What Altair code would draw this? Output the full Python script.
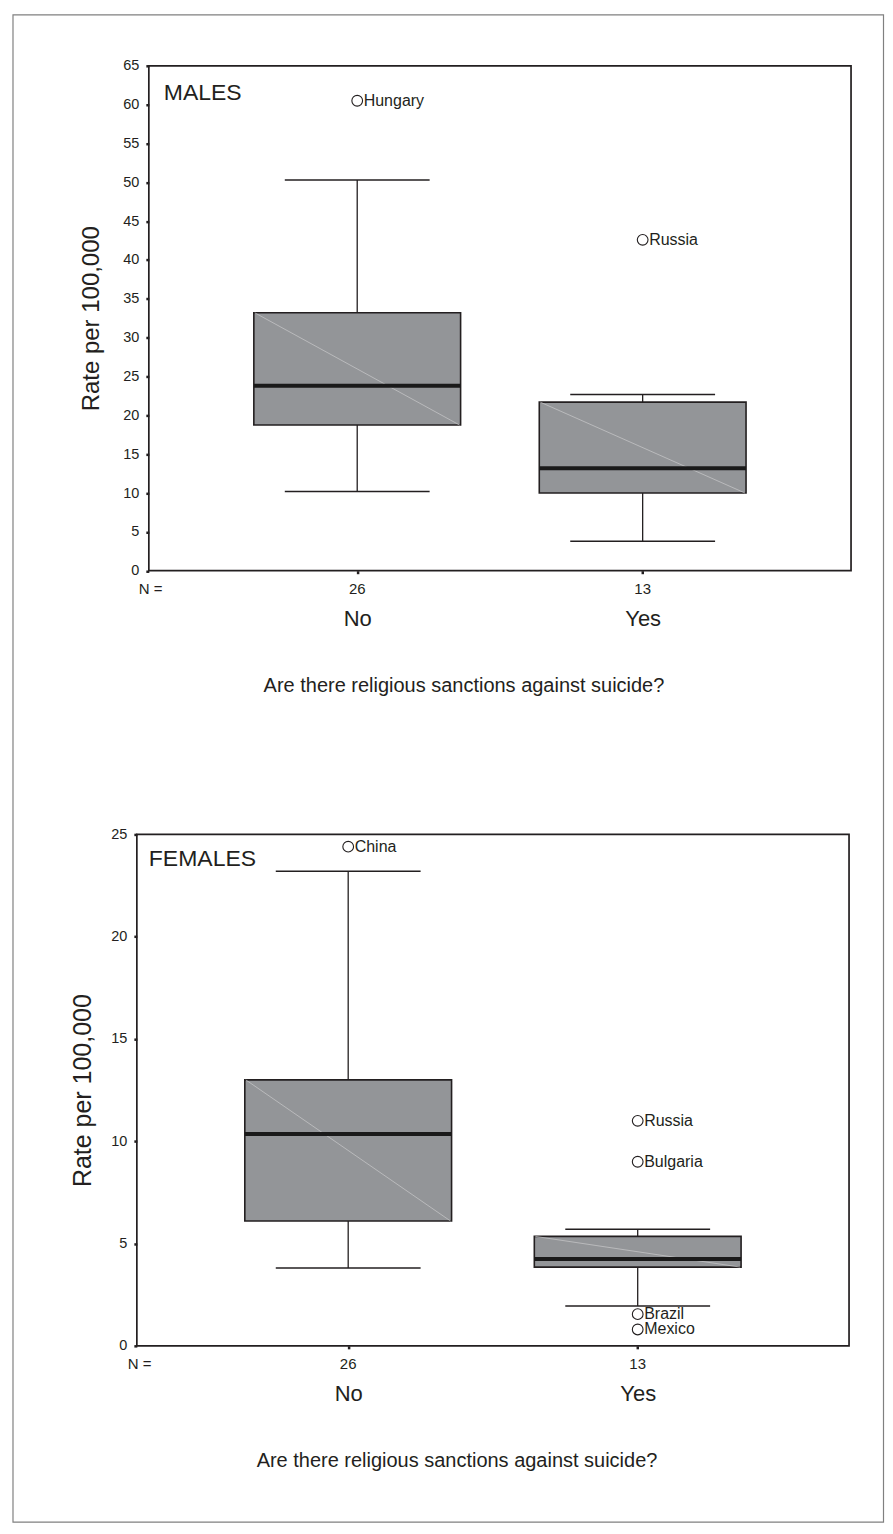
import altair as alt
import pandas as pd

# ---------------- data ----------------
groups = ["No", "Yes"]
n_counts = [26, 13]

male_q1 = [18.75, 10.0]
male_median = [23.8, 13.2]
male_q3 = [33.2, 21.7]
male_low = [10.2, 3.8]
male_high = [50.3, 22.7]
male_out_group = ["No", "Yes"]
male_out_value = [60.5, 42.6]
male_out_label = ["Hungary", "Russia"]

female_q1 = [6.1, 3.85]
female_median = [10.35, 4.25]
female_q3 = [13.0, 5.35]
female_low = [3.8, 1.95]
female_high = [23.2, 5.7]
female_out_group = ["No", "Yes", "Yes", "Yes", "Yes"]
female_out_value = [24.4, 11.0, 9.0, 1.55, 0.8]
female_out_label = ["China", "Russia", "Bulgaria", "Brazil", "Mexico"]

male_ticks = list(range(0, 70, 5))
female_ticks = list(range(0, 30, 5))

FONT = "Liberation Sans"
INK = "#231f20"
BOX_FILL = "#939598"
DIAG = "#c9c9cb"
FRAME_GRAY = "#808080"

BOX_HALF = 103.5
CAP_HALF = 72.5


def panel(name, q1, med, q3, lo, hi, og, ov, ol, ymax, yticks, width, height,
          x_range, y_axis_offset, ytitle_x, ytitle_size, xtitle_x, frame_x0,
          nlabel_x, name_x, name_y, page_frame=None):
    stats = pd.DataFrame({"group": groups, "n": n_counts, "q1": q1, "med": med,
                          "q3": q3, "lo": lo, "hi": hi})
    outs = pd.DataFrame({"group": og, "value": ov, "label": ol})
    one = pd.DataFrame({"k": [0]})

    xscale = alt.Scale(type="point", domain=groups, padding=0.73)
    if x_range is not None:
        xscale = alt.Scale(type="point", domain=groups, padding=0.73, range=x_range)
    xaxis = alt.Axis(domain=False, ticks=True, tickSize=3, tickWidth=2.5,
                     tickColor=INK, labelFontSize=22, labelColor=INK,
                     labelPadding=45, labelBaseline="middle", labelAngle=0,
                     grid=False,
                     title="Are there religious sanctions against suicide?",
                     titleFontSize=20, titleFontWeight="normal", titleColor=INK,
                     titleX=xtitle_x, titleY=114.5, titleBaseline="middle",
                     titleAlign="center")
    yaxis = alt.Axis(values=yticks, domain=False, ticks=True, tickSize=3,
                     tickWidth=2.5, tickColor=INK, labelFontSize=14.5,
                     labelColor=INK, labelPadding=7, grid=False,
                     title="Rate per 100,000", titleFontSize=ytitle_size,
                     titleFontWeight="normal", titleColor=INK,
                     titleX=ytitle_x, titleBaseline="middle",
                     offset=y_axis_offset)
    yscale = alt.Scale(domain=[0, ymax], nice=False, zero=True)

    X = alt.X("group:N", scale=xscale, axis=xaxis)

    def Y(f):
        return alt.Y(f"{f}:Q", scale=yscale, axis=yaxis)

    base = alt.Chart(stats)
    layers = []
    # whiskers
    layers.append(base.mark_rule(color=INK, strokeWidth=1.3).encode(
        x=X, y=Y("q3"), y2="hi"))
    layers.append(base.mark_rule(color=INK, strokeWidth=1.3).encode(
        x=X, y=Y("q1"), y2="lo"))
    # caps
    layers.append(base.mark_rule(color=INK, strokeWidth=1.5, xOffset=-CAP_HALF,
                                 x2Offset=CAP_HALF).encode(
        x=X, x2="group", y=Y("hi")))
    layers.append(base.mark_rule(color=INK, strokeWidth=1.5, xOffset=-CAP_HALF,
                                 x2Offset=CAP_HALF).encode(
        x=X, x2="group", y=Y("lo")))
    # box
    layers.append(base.mark_bar(size=2 * BOX_HALF, fill=BOX_FILL, stroke=INK,
                                strokeWidth=1.6).encode(
        x=X, y=Y("q1"), y2="q3"))
    # faint diagonal inside box
    layers.append(base.mark_rule(color=DIAG, strokeWidth=0.7, xOffset=-BOX_HALF + 1,
                                 x2Offset=BOX_HALF - 1).encode(
        x=X, x2="group", y=Y("q3"), y2="q1"))
    # median
    layers.append(base.mark_rule(color="#1a1a1a", strokeWidth=4, xOffset=-BOX_HALF,
                                 x2Offset=BOX_HALF).encode(
        x=X, x2="group", y=Y("med")))
    # outliers
    ob = alt.Chart(outs)
    layers.append(ob.mark_point(shape="circle", filled=False, size=115,
                                color=INK, strokeWidth=1.1, opacity=1).encode(
        x=X, y=Y("value")))
    layers.append(ob.mark_text(align="left", baseline="middle", dx=6.5,
                               fontSize=16, color=INK).encode(
        x=X, y=Y("value"), text="label:N"))
    # N counts
    layers.append(base.mark_text(baseline="middle", fontSize=15, color=INK).encode(
        x=X, y=alt.value(height + 18), text="n:Q"))
    layers.append(alt.Chart(one).mark_text(text="N =", align="left",
                                           baseline="middle", fontSize=15,
                                           color=INK).encode(
        x=alt.value(nlabel_x), y=alt.value(height + 18)))
    # panel label
    layers.append(alt.Chart(one).mark_text(text=name, align="left",
                                           baseline="middle", fontSize=23,
                                           color=INK).encode(
        x=alt.value(name_x), y=alt.value(name_y)))
    # plot frame
    layers.append(alt.Chart(one).mark_rect(fillOpacity=0, stroke=INK,
                                           strokeWidth=1.7).encode(
        x=alt.value(frame_x0), x2=alt.value(width), y=alt.value(0),
        y2=alt.value(height)))
    if page_frame is not None:
        layers.append(alt.Chart(one).mark_rect(fillOpacity=0, stroke=FRAME_GRAY,
                                               strokeWidth=1.2).encode(
            x=alt.value(page_frame[0]), x2=alt.value(page_frame[1]),
            y=alt.value(page_frame[2]), y2=alt.value(page_frame[3])))
    return alt.layer(*layers).properties(width=width, height=height)


males = panel("MALES", male_q1, male_median, male_q3, male_low, male_high,
              male_out_group, male_out_value, male_out_label, 65, male_ticks,
              width=715, height=505.5, x_range=[12, 715], y_axis_offset=-12,
              ytitle_x=-57, ytitle_size=24, xtitle_x=327, frame_x0=12,
              nlabel_x=2, name_x=27, name_y=27.5,
              page_frame=[-124, 747.5, -51, 1458])

females = panel("FEMALES", female_q1, female_median, female_q3, female_low,
                female_high, female_out_group, female_out_value,
                female_out_label, 25, female_ticks,
                width=713, height=512, x_range=None, y_axis_offset=0,
                ytitle_x=-54, ytitle_size=25, xtitle_x=320, frame_x0=0,
                nlabel_x=-9, name_x=12, name_y=25)

chart = alt.vconcat(males, females, spacing=263.5, bounds="flush").properties(
    padding={"left": 4, "top": 5, "right": 0, "bottom": 0}
).configure(font=FONT).configure_view(strokeWidth=0)

chart.save("out.html", embed_options={"renderer": "svg", "actions": False})
